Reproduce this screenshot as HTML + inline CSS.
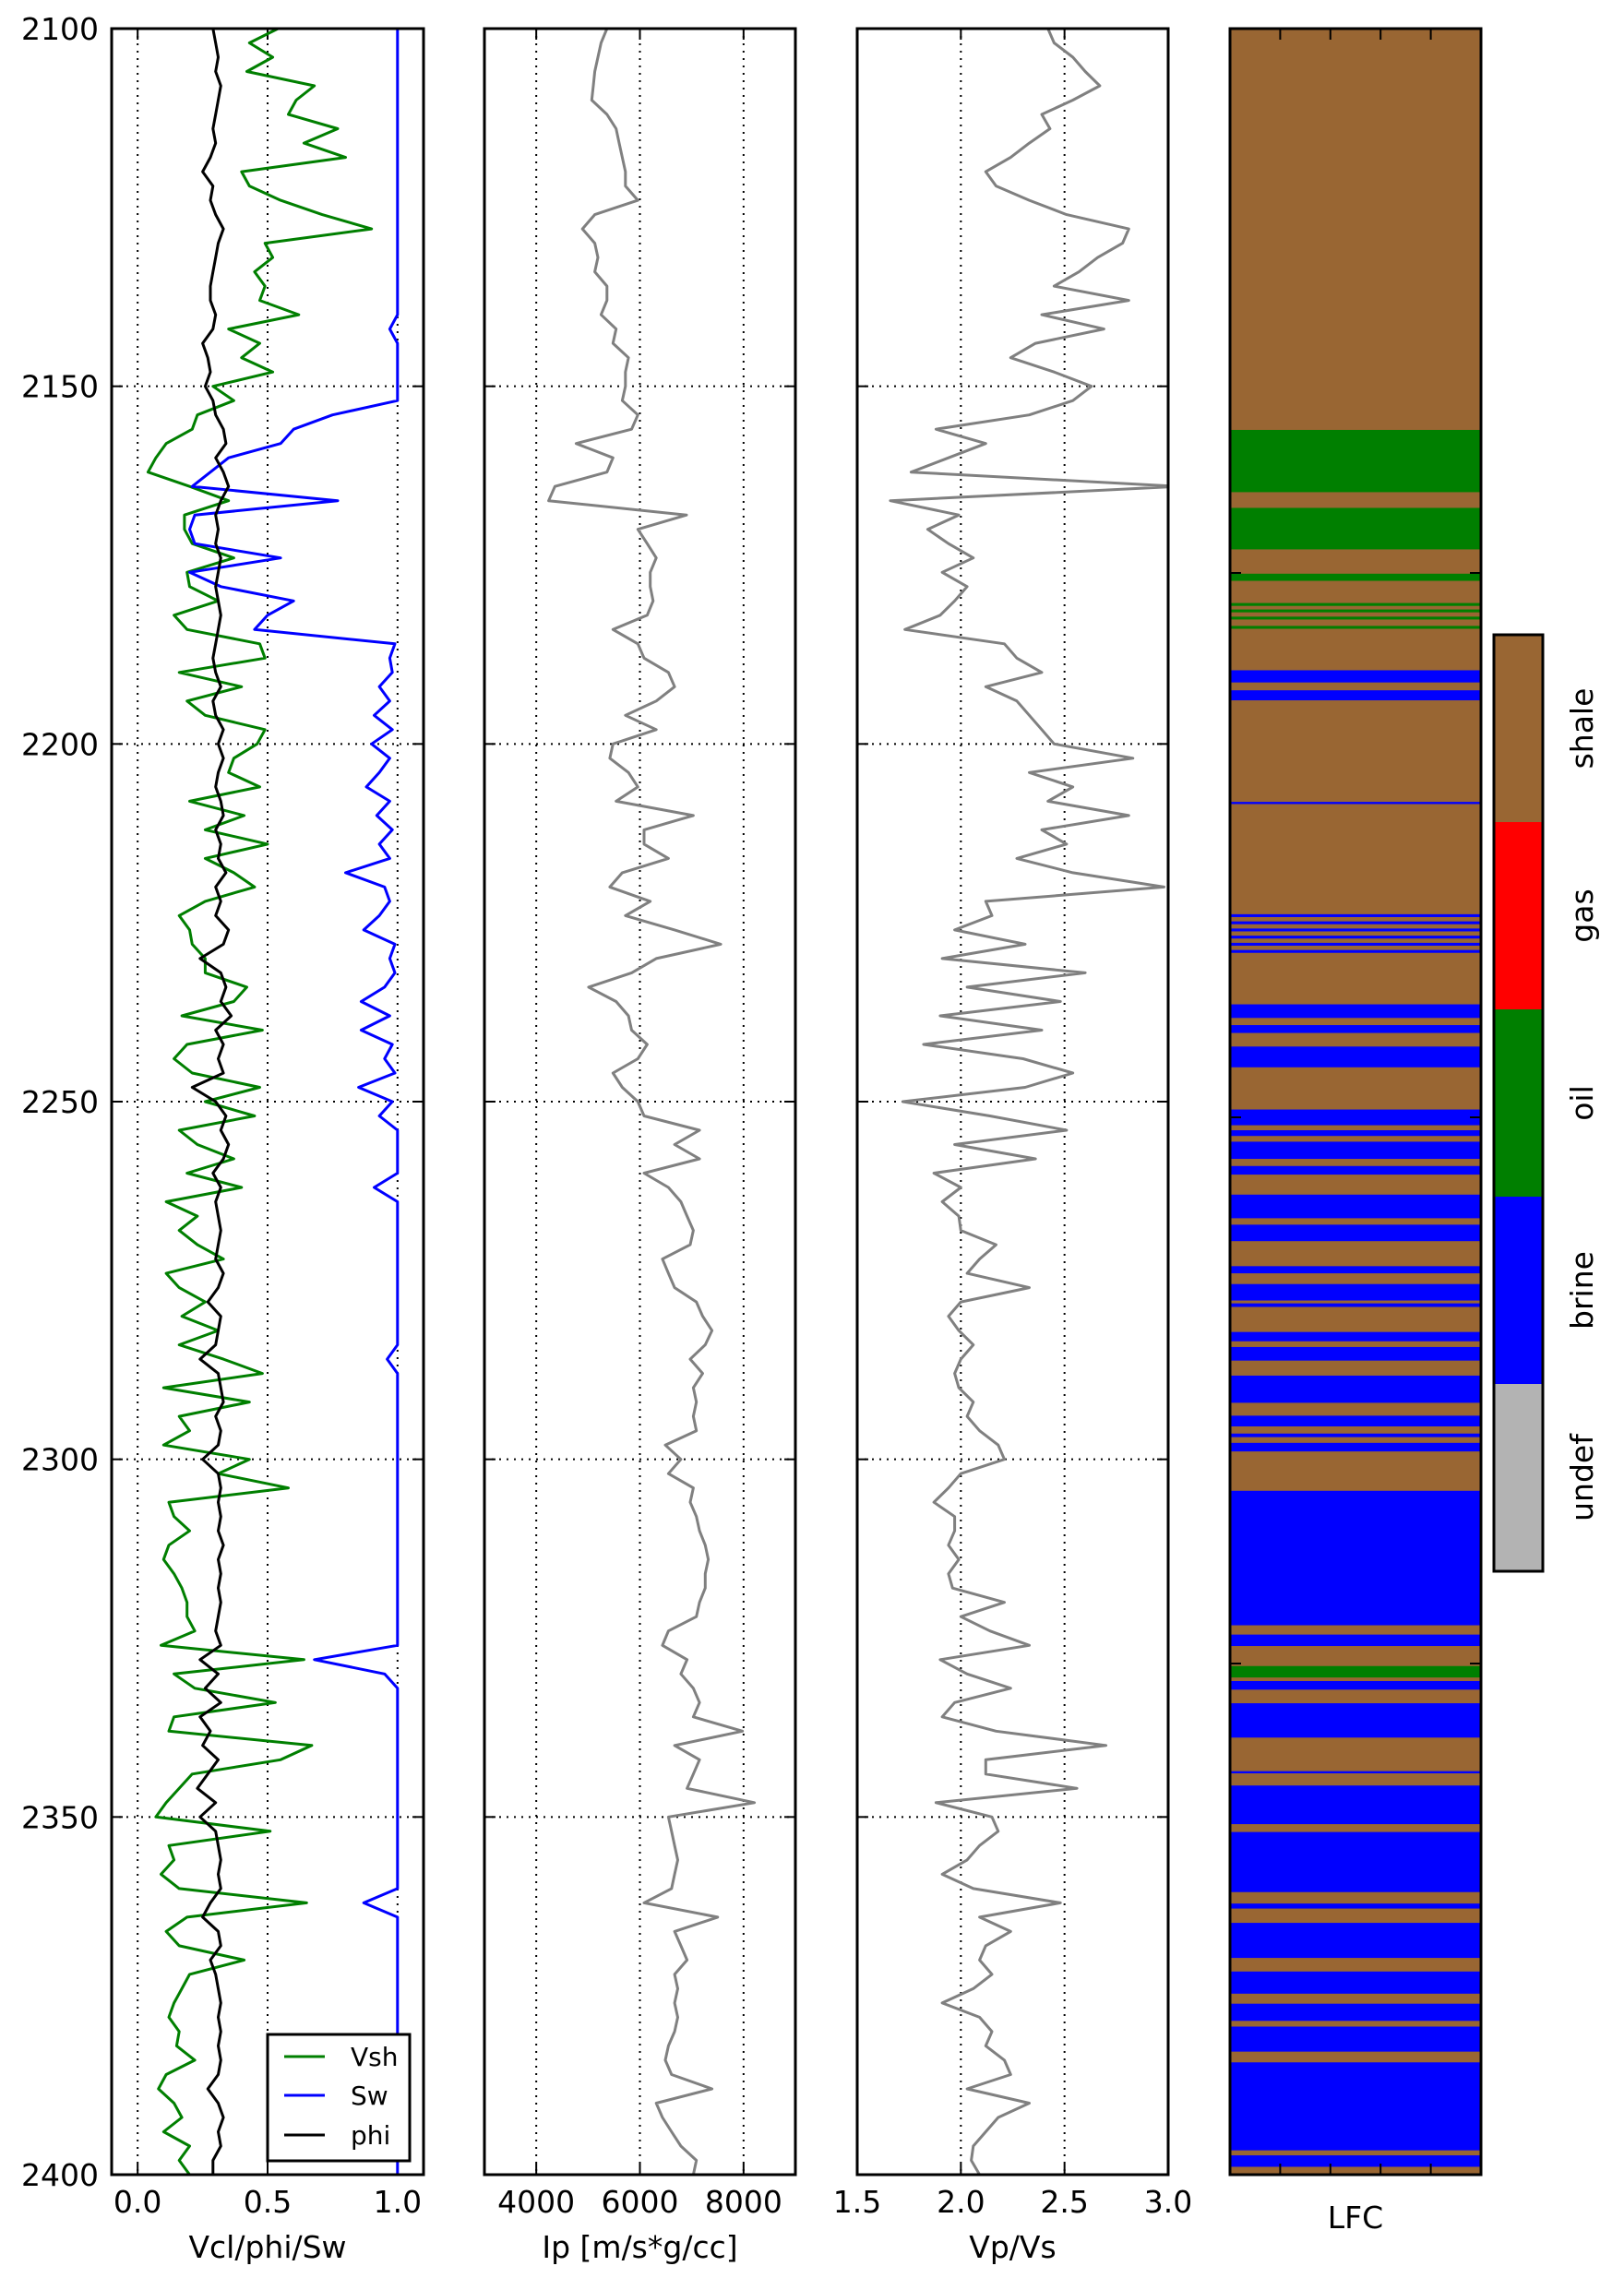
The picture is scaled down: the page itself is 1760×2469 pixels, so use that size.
<!DOCTYPE html>
<html><head><meta charset="utf-8"><style>
html,body{margin:0;padding:0;background:#fff;}
svg{display:block;font-family:"DejaVu Sans","Liberation Sans",sans-serif;}
</style></head>
<body>
<svg id="fig" xmlns="http://www.w3.org/2000/svg" width="1760" height="2469" viewBox="0 0 1760 2469"></svg>
<script>
const vsh = [0.54,0.43,0.52,0.42,0.68,0.61,0.58,0.77,0.64,0.80,0.40,0.43,0.55,0.71,0.90,0.49,0.52,0.45,0.49,0.47,0.62,0.35,0.47,0.40,0.52,
0.29,0.37,0.23,0.21,0.11,0.07,0.04,0.20,0.35,0.18,0.18,0.21,0.37,0.19,0.20,0.31,0.14,0.19,0.47,0.49,0.16,0.40,0.19,0.26,0.49,
0.46,0.37,0.35,0.47,0.20,0.41,0.26,0.50,0.26,0.37,0.45,0.26,0.16,0.20,0.21,0.26,0.26,0.42,0.37,0.17,0.48,0.19,0.14,0.21,0.47,0.26,
0.45,0.16,0.23,0.37,0.19,0.40,0.11,0.23,0.16,0.23,0.33,0.11,0.16,0.26,0.17,0.31,0.16,0.33,0.48,0.10,0.43,0.16,0.20,0.10,0.43,
0.31,0.58,0.12,0.14,0.20,0.12,0.10,0.14,0.17,0.19,0.19,0.22,0.09,0.64,0.14,0.22,0.53,0.14,0.12,0.67,0.55,0.21,0.16,0.11,0.07,
0.51,0.12,0.14,0.09,0.16,0.65,0.19,0.11,0.16,0.41,0.20,0.17,0.14,0.12,0.16,0.15,0.22,0.11,0.08,0.14,0.17,0.10,0.20,0.16,0.20];
const phi = [0.29,0.30,0.31,0.30,0.32,0.31,0.30,0.29,0.30,0.28,0.25,0.29,0.28,0.30,0.33,0.31,0.30,0.29,0.28,0.28,0.30,0.29,0.25,0.27,0.28,
0.26,0.29,0.30,0.33,0.34,0.30,0.33,0.35,0.32,0.30,0.31,0.30,0.32,0.31,0.30,0.31,0.32,0.31,0.30,0.29,0.30,0.32,0.29,0.30,0.33,
0.31,0.33,0.31,0.30,0.32,0.33,0.30,0.32,0.31,0.34,0.30,0.32,0.30,0.35,0.33,0.24,0.32,0.34,0.32,0.36,0.30,0.33,0.31,0.33,0.21,
0.30,0.34,0.32,0.35,0.33,0.29,0.32,0.30,0.31,0.32,0.31,0.30,0.33,0.31,0.27,0.32,0.31,0.30,0.24,0.31,0.32,0.33,0.30,0.32,0.31,
0.25,0.31,0.32,0.31,0.32,0.31,0.33,0.31,0.32,0.31,0.32,0.31,0.30,0.32,0.24,0.31,0.26,0.32,0.24,0.28,0.25,0.31,0.27,0.23,0.30,
0.24,0.30,0.31,0.32,0.31,0.32,0.28,0.25,0.31,0.32,0.28,0.30,0.31,0.32,0.31,0.32,0.31,0.32,0.31,0.27,0.31,0.33,0.31,0.32,0.29,0.29];
const sw = [1,1,1,1,1,1,1,1,1,1,1,1,1,1,1,1,1,1,1,1,1,0.97,1,1,1,1,1,
0.75,0.6,0.55,0.35,0.28,0.21,0.77,0.22,0.2,0.22,0.55,0.2,0.32,0.6,0.5,0.45,0.99,
0.97,0.98,0.93,0.97,0.91,0.98,0.9,0.97,0.93,0.88,0.97,0.92,0.98,0.93,0.97,0.8,0.95,0.97,0.93,0.87,0.99,0.97,0.99,0.95,0.86,0.97,0.86,0.98,0.95,0.99,0.85,0.98,
0.93,1,1,1,1,0.91,1,1,1,1,1,1,1,1,1,1,1,0.96,1,1,1,1,1,1,1,
1,1,1,1,1,1,1,1,1,1,1,1,1,0.68,0.95,1,1,1,1,1,1,1,1,1,1,
1,1,1,1,1,0.87,1,1,1,1,1,1,1,1,1,1,1,1,1,1,1,1,1,1,1];
const ip = [5365,5250,5190,5130,5100,5070,5365,5540,5600,5660,5720,5720,5960,5130,4890,5130,5190,5130,5365,5365,5250,5540,5480,5780,5720,
5720,5660,5960,5840,4770,5480,5365,4360,4240,6900,5960,6140,6315,6200,6200,6255,6140,5480,5960,6080,6550,6670,6315,5720,6315,
5480,5420,5780,5960,5540,7030,6080,6080,6550,5660,5420,6200,5720,6670,7560,6315,5840,5010,5540,5780,5840,6140,5960,5480,5660,
5960,6080,7150,6670,7150,6080,6550,6790,6910,7030,6970,6435,6550,6670,7090,7210,7390,7260,6970,7210,7030,7090,7030,7090,6490,
6790,6550,7030,6970,7090,7150,7260,7320,7260,7260,7150,7090,6550,6435,6910,6790,7030,7150,7030,7980,6670,7150,7030,6910,8210,
6550,6610,6670,6730,6670,6610,6080,7500,6670,6790,6910,6670,6730,6670,6730,6670,6550,6490,6610,7390,6315,6435,6610,6790,7090,7030];
const vpvs = [2.42,2.45,2.54,2.60,2.67,2.54,2.39,2.43,2.33,2.24,2.12,2.17,2.33,2.51,2.81,2.78,2.66,2.57,2.45,2.81,2.39,2.69,2.36,2.24,2.45,
2.63,2.54,2.33,1.88,2.12,1.94,1.76,3.05,1.66,1.99,1.84,1.94,2.06,1.91,2.03,1.97,1.90,1.73,2.21,2.27,2.39,2.12,2.27,2.33,2.39,
2.45,2.83,2.33,2.54,2.42,2.81,2.39,2.51,2.27,2.54,2.98,2.12,2.15,1.97,2.31,1.91,2.60,2.03,2.48,1.90,2.39,1.82,2.30,2.54,2.31,
1.72,2.14,2.51,1.97,2.36,1.87,2.00,1.91,1.99,2.00,2.17,2.09,2.03,2.33,2.00,1.94,1.99,2.06,2.00,1.97,1.99,2.06,2.03,2.09,2.18,
2.21,2.00,1.94,1.87,1.97,1.97,1.94,1.99,1.94,1.96,2.21,2.00,2.14,2.33,1.90,2.03,2.24,1.97,1.91,2.17,2.70,2.12,2.12,2.56,1.88,
2.15,2.18,2.09,2.03,1.91,2.06,2.48,2.09,2.24,2.12,2.09,2.15,2.06,1.91,2.09,2.15,2.12,2.21,2.24,2.03,2.33,2.18,2.12,2.06,2.05,2.09];
const lfcTops = [2156.1,2167.0,2176.2,2180.3,2181.2,2182.2,2183.5,2189.7,2192.5,2208.1,2223.8,2224.8,2225.8,2226.8,2227.8,2228.8,2236.4,2239.3,2242.3,2251.1,2254.0,2255.6,2259.0,2263.0,2267.2,2273.0,2275.5,2278.2,2282.2,2284.3,2288.3,2293.9,2296.4,2297.7,2304.4,2324.5,2328.9,2331.0,2334.1,2343.6,2345.6,2352.1,2362.1,2364.8,2371.6,2376.1,2379.3,2384.3,2397.3];
const lfcBases = [2164.8,2172.8,2177.2,2180.7,2181.6,2182.6,2183.9,2191.4,2193.9,2208.4,2224.2,2225.2,2226.2,2227.2,2228.2,2229.2,2238.3,2240.4,2245.2,2253.3,2254.8,2258.0,2260.2,2266.3,2269.5,2274.0,2277.8,2278.7,2283.5,2286.2,2292.1,2295.4,2296.9,2298.9,2323.2,2326.1,2330.5,2332.2,2338.9,2343.9,2351.0,2360.5,2362.8,2369.7,2374.7,2378.5,2382.8,2396.6,2398.9];
const lfcClass = [2,2,2,2,2,2,2,1,1,1,1,1,1,1,1,1,1,1,1,1,1,1,1,1,1,1,1,1,1,1,1,1,1,1,1,1,2,1,1,1,1,1,1,1,1,1,1,1,1];
const classNames = ['undef','brine','oil','gas','shale'];
const classColors = ['#b3b3b3','#0000ff','#007f00','#ff0000','#996633'];
const depthTicks = [2100,2150,2200,2250,2300,2350,2400];
const t1 = [0.0,0.5,1.0], t1l = ['0.0','0.5','1.0'];
const t2 = [4000,6000,8000], t2l = ['4000','6000','8000'];
const t3 = [1.5,2.0,2.5,3.0], t3l = ['1.5','2.0','2.5','3.0'];

const NS='http://www.w3.org/2000/svg';
const svg=document.getElementById('fig');
function mk(tag,attrs,parent){const e=document.createElementNS(NS,tag);for(const k in attrs)e.setAttribute(k,attrs[k]);(parent||svg).appendChild(e);return e;}
const TOP=31,BOT=2357;
function yD(d){return TOP+(d-2100)*(BOT-TOP)/300;}
function depthAt(i){return 2100+2*i;}
function xs(x0,x1,v0,v1){return v=>x0+(v-v0)*(x1-x0)/(v1-v0);}

const panels=[
 {name:'vcl-phi-sw-track',x0:121,x1:459,v0:-0.1,v1:1.1,ticks:t1,labels:t1l,title:'Vcl/phi/Sw'},
 {name:'ip-track',x0:525,x1:862,v0:3000,v1:9000,ticks:t2,labels:t2l,title:'Ip [m/s*g/cc]'},
 {name:'vpvs-track',x0:929,x1:1266,v0:1.5,v1:3.0,ticks:t3,labels:t3l,title:'Vp/Vs'}
];
panels.forEach((p,pi)=>{
  const g=mk('g',{});
  
  
  p.sx=xs(p.x0,p.x1,p.v0,p.v1);
  const cp=mk('clipPath',{id:'clip'+pi},g);
  mk('rect',{x:p.x0,y:TOP,width:p.x1-p.x0,height:BOT-TOP},cp);
  p.g=g;
  // grid
  p.ticks.forEach((t,i)=>{
    const x=p.sx(t);
    if(x>p.x0+2&&x<p.x1-2){
      const l=mk('line',{x1:x,x2:x,y1:TOP,y2:BOT,stroke:'#000','stroke-width':2,'stroke-dasharray':'2,6'},g);
      
      
    }
    const tl=mk('line',{x1:x,x2:x,y1:BOT,y2:BOT-12,stroke:'#000','stroke-width':2},g);
    
    
    const tt=mk('line',{x1:x,x2:x,y1:TOP,y2:TOP+12,stroke:'#000','stroke-width':2},g);
    
    
    const tx=mk('text',{x:x,y:2398,'font-size':33,'text-anchor':'middle'},g);
    tx.textContent=p.labels[i];
    
    
  });
  depthTicks.forEach(d=>{
    const y=yD(d);
    if(d>2100&&d<2400){
      const l=mk('line',{x1:p.x0,x2:p.x1,y1:y,y2:y,stroke:'#000','stroke-width':2,'stroke-dasharray':'2,6'},g);
      
      
    }
    const a=mk('line',{x1:p.x0,x2:p.x0+12,y1:y,y2:y,stroke:'#000','stroke-width':2},g);
    
    
    const b=mk('line',{x1:p.x1-12,x2:p.x1,y1:y,y2:y,stroke:'#000','stroke-width':2},g);
    
    
  });
  const tl=mk('text',{x:(p.x0+p.x1)/2,y:2447,'font-size':33,'text-anchor':'middle'},g);
  tl.textContent=p.title;
  
  
});
// depth labels
depthTicks.forEach(d=>{
  const t=mk('text',{x:107,y:yD(d)+12,'font-size':33,'text-anchor':'end'});
  t.textContent=String(d);
  
  
});
function curve(p,arr,color,name,pi){
  let dstr='';
  arr.forEach((v,i)=>{dstr+=(i?'L':'M')+p.sx(v).toFixed(1)+','+yD(depthAt(i)).toFixed(1);});
  const path=mk('path',{d:dstr,fill:'none',stroke:color,'stroke-width':3,'stroke-linejoin':'round','clip-path':'url(#clip'+pi+')'},p.g);
  
  
}
curve(panels[0],vsh,'#007f00','vsh-curve',0);
curve(panels[0],sw,'#0000ff','sw-curve',0);
curve(panels[0],phi,'#000','phi-curve',0);
curve(panels[1],ip,'#808080','ip-curve',1);
curve(panels[2],vpvs,'#808080','vpvs-curve',2);
panels.forEach(p=>{
  const f=mk('rect',{x:p.x0,y:TOP,width:p.x1-p.x0,height:BOT-TOP,fill:'none',stroke:'#000','stroke-width':3},p.g);
  
  
});
// legend
const lg=mk('g',{});


const lr=mk('rect',{x:290,y:2205,width:154,height:137,fill:'#fff',stroke:'#000','stroke-width':3},lg);


[['Vsh','#007f00',2229],['Sw','#0000ff',2271],['phi','#000',2314]].forEach(e=>{
  const ln=mk('line',{x1:308,x2:352,y1:e[2],y2:e[2],stroke:e[1],'stroke-width':3},lg);
  
  
  const t=mk('text',{x:380,y:e[2]+10,'font-size':28},lg);
  t.textContent=e[0];
  
  
});
// LFC track
const L0=1333,L1=1605;
const lfc=mk('g',{});


const bg=mk('rect',{x:L0,y:TOP,width:L1-L0,height:BOT-TOP,fill:classColors[4]},lfc);


lfcTops.forEach((t,i)=>{
  const y0=yD(t),y1=yD(lfcBases[i]);
  const r=mk('rect',{x:L0,y:y0,width:L1-L0,height:Math.max(1.5,y1-y0),fill:classColors[lfcClass[i]]},lfc);
  
  
});
[1,2,3,4].forEach(k=>{
  const x=L0+k*(L1-L0)/5;
  const a=mk('line',{x1:x,x2:x,y1:TOP,y2:TOP+12,stroke:'#000','stroke-width':2},lfc);
  
  
  const b=mk('line',{x1:x,x2:x,y1:BOT,y2:BOT-12,stroke:'#000','stroke-width':2},lfc);
  
  
});
[621,1211,1803].forEach(y=>{
  const a=mk('line',{x1:L0,x2:L0+12,y1:y,y2:y,stroke:'#000','stroke-width':2},lfc);
  
  
  const b=mk('line',{x1:L1-12,x2:L1,y1:y,y2:y,stroke:'#000','stroke-width':2},lfc);
  
  
});
const lf=mk('rect',{x:L0,y:TOP,width:L1-L0,height:BOT-TOP,fill:'none',stroke:'#000','stroke-width':3},lfc);


const lt=mk('text',{x:(L0+L1)/2,y:2415,'font-size':33,'text-anchor':'middle'},lfc);
lt.textContent='LFC';


// colorbar
const cb=mk('g',{});


const C0=1619,C1=1672,CT=688,CB=1703,seg=(CB-CT)/5;
[4,3,2,1,0].forEach((c,k)=>{
  const r=mk('rect',{x:C0,y:CT+k*seg,width:C1-C0,height:seg+0.5,fill:classColors[c]},cb);
  
  
  const cy=CT+k*seg+seg/2;
  const t=mk('text',{x:1726,y:cy,'font-size':33,'text-anchor':'middle',transform:'rotate(-90 1726 '+cy+')'},cb);
  t.textContent=classNames[c];
  
  
});
const cf=mk('rect',{x:C0,y:CT,width:C1-C0,height:CB-CT,fill:'none',stroke:'#000','stroke-width':3},cb);


</script>
</body></html>
